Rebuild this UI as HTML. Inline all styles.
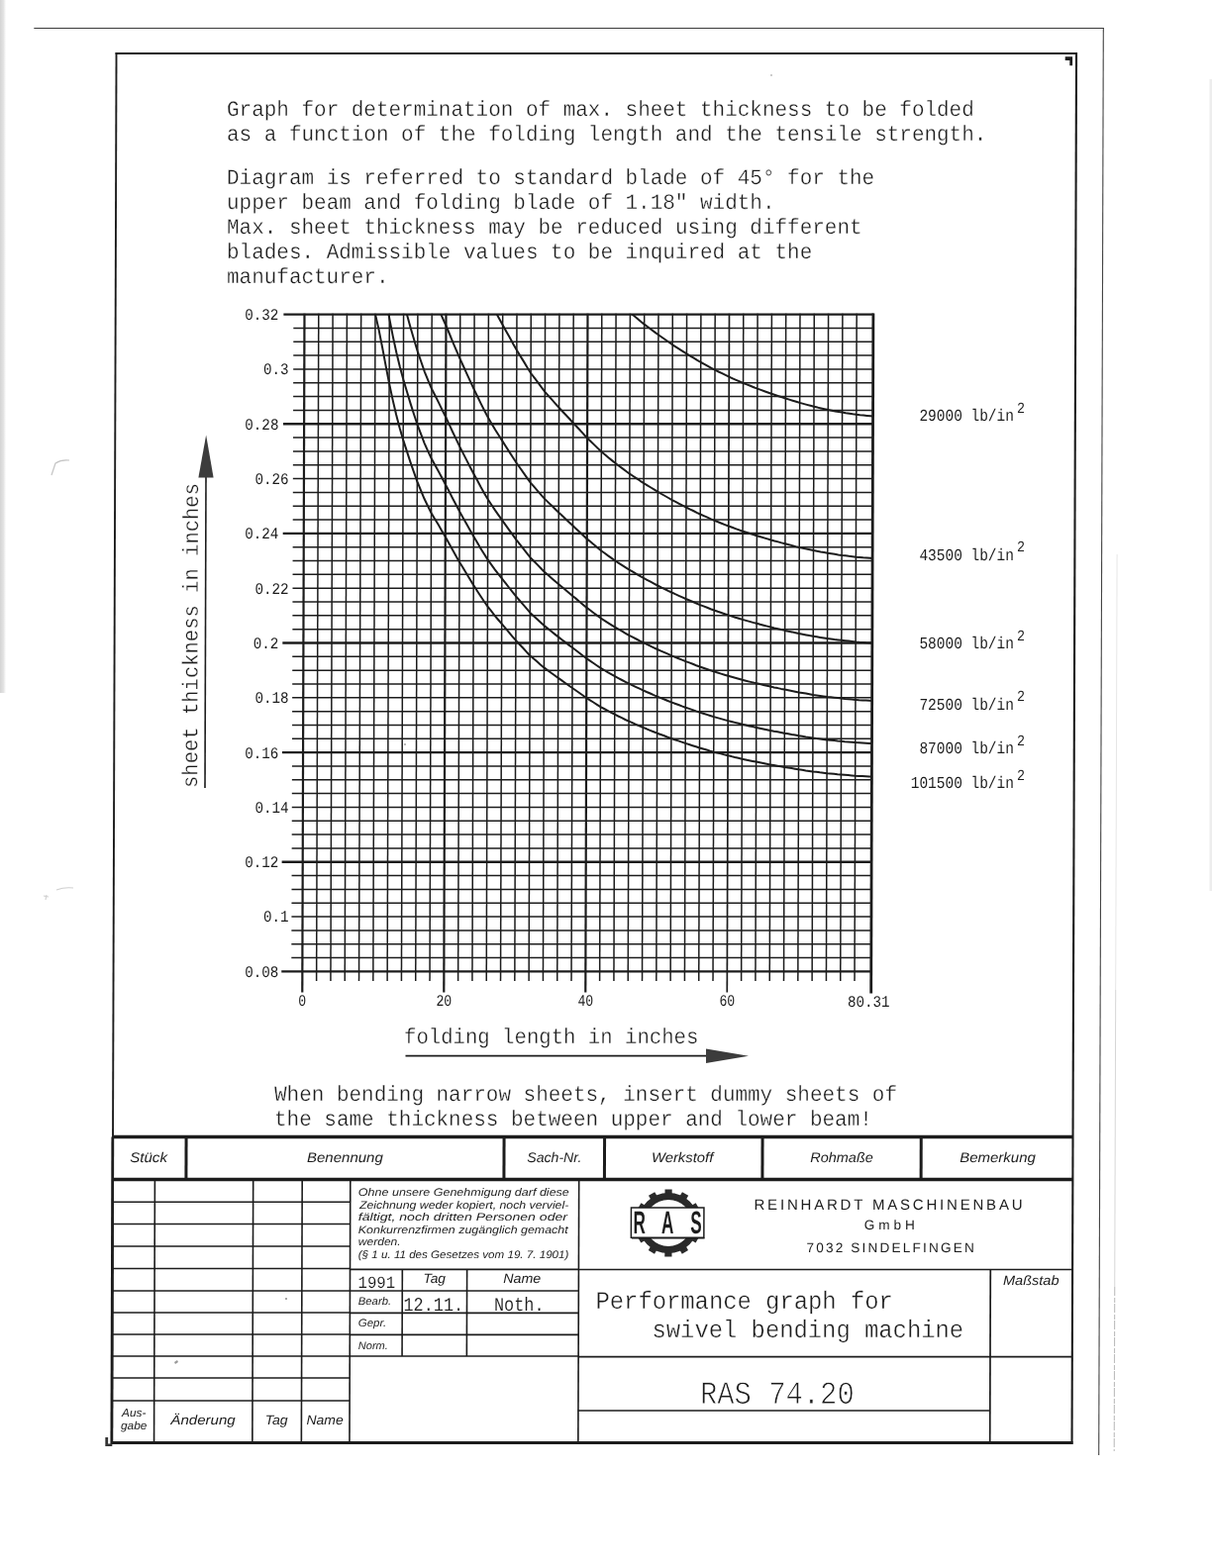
<!DOCTYPE html>
<html lang="en"><head><meta charset="utf-8"><title>RAS 74.20 – Performance graph for swivel bending machine</title>
<style>
html,body{margin:0;padding:0;background:#fff}
body{width:1224px;height:1584px;overflow:hidden}
svg{display:block}
text{fill:#1c1c1c}
.m{font-family:"Liberation Mono", "DejaVu Sans Mono", monospace}
.s{font-family:"Liberation Sans", "DejaVu Sans", sans-serif}
</style></head><body>
<svg width="1224" height="1584" viewBox="0 0 1224 1584">
<defs><linearGradient id="edge" x1="0" x2="1" y1="0" y2="0"><stop offset="0" stop-color="#d4d4d4"/><stop offset="0.6" stop-color="#e4e4e4"/><stop offset="1" stop-color="#ffffff"/></linearGradient></defs>
<rect width="1224" height="1584" fill="#fff"/>
<rect x="0" y="0" width="6" height="700" fill="url(#edge)"/>
<rect x="1221.5" y="80" width="2.5" height="820" fill="#ededed"/>
<path d="M52 480 l4 -12 q6 -4 14 -3" fill="none" stroke="#c4c4c4" stroke-width="1.2"/>
<path d="M46 909 l1 -5 m-3 1 l5 1 m8 -7 q8 -3 17 -2" fill="none" stroke="#cfcfcf" stroke-width="1.1"/>
<circle cx="779" cy="76" r="1" fill="#bbb"/><circle cx="409" cy="752" r="0.9" fill="#999"/><circle cx="289" cy="1312" r="1" fill="#888"/>
<path d="M176 1376 l3 -2 l1 2 l-3 2z" fill="#999"/>

<g transform="matrix(1 0 -0.0032 1 2.400 0)">
<!-- frame, title block -->
<line x1="115.30" y1="53.00" x2="115.30" y2="1459.00" stroke="#1c1c1c" stroke-width="1.9"/>
<line x1="115.10" y1="1148.50" x2="115.10" y2="1459.00" stroke="#1c1c1c" stroke-width="2.8"/>
<line x1="1084.80" y1="53.00" x2="1084.80" y2="1459.00" stroke="#1c1c1c" stroke-width="2.1"/>
<line x1="114.40" y1="54.00" x2="1085.80" y2="54.00" stroke="#1c1c1c" stroke-width="2.2"/>
<line x1="114.40" y1="1457.50" x2="1085.80" y2="1457.50" stroke="#1c1c1c" stroke-width="3.2"/>
<line x1="115.30" y1="1148.50" x2="1084.80" y2="1148.50" stroke="#1c1c1c" stroke-width="3.4"/>
<line x1="115.30" y1="1191.50" x2="1084.80" y2="1191.50" stroke="#1c1c1c" stroke-width="3.4"/>
<line x1="189.34" y1="1148.50" x2="189.34" y2="1191.50" stroke="#1c1c1c" stroke-width="3.0"/>
<line x1="510.34" y1="1148.50" x2="510.34" y2="1191.50" stroke="#1c1c1c" stroke-width="3.0"/>
<line x1="611.84" y1="1148.50" x2="611.84" y2="1191.50" stroke="#1c1c1c" stroke-width="3.0"/>
<line x1="771.34" y1="1148.50" x2="771.34" y2="1191.50" stroke="#1c1c1c" stroke-width="3.0"/>
<line x1="931.54" y1="1148.50" x2="931.54" y2="1191.50" stroke="#1c1c1c" stroke-width="3.0"/>
<line x1="157.82" y1="1191.50" x2="157.82" y2="1457.50" stroke="#1c1c1c" stroke-width="1.6"/>
<line x1="257.12" y1="1191.50" x2="257.12" y2="1457.50" stroke="#1c1c1c" stroke-width="1.6"/>
<line x1="306.62" y1="1191.50" x2="306.62" y2="1457.50" stroke="#1c1c1c" stroke-width="1.6"/>
<line x1="355.22" y1="1191.50" x2="355.22" y2="1457.50" stroke="#1c1c1c" stroke-width="1.6"/>
<line x1="586.12" y1="1191.50" x2="586.12" y2="1457.50" stroke="#1c1c1c" stroke-width="1.6"/>
<line x1="115.30" y1="1214.25" x2="355.22" y2="1214.25" stroke="#1c1c1c" stroke-width="1.5"/>
<line x1="115.30" y1="1236.50" x2="355.22" y2="1236.50" stroke="#1c1c1c" stroke-width="1.5"/>
<line x1="115.30" y1="1259.00" x2="355.22" y2="1259.00" stroke="#1c1c1c" stroke-width="1.5"/>
<line x1="115.30" y1="1281.60" x2="355.22" y2="1281.60" stroke="#1c1c1c" stroke-width="1.5"/>
<line x1="115.30" y1="1303.90" x2="355.22" y2="1303.90" stroke="#1c1c1c" stroke-width="1.5"/>
<line x1="115.30" y1="1325.90" x2="355.22" y2="1325.90" stroke="#1c1c1c" stroke-width="1.5"/>
<line x1="115.30" y1="1348.10" x2="355.22" y2="1348.10" stroke="#1c1c1c" stroke-width="1.5"/>
<line x1="115.30" y1="1370.00" x2="355.22" y2="1370.00" stroke="#1c1c1c" stroke-width="1.5"/>
<line x1="115.30" y1="1392.00" x2="355.22" y2="1392.00" stroke="#1c1c1c" stroke-width="1.5"/>
<line x1="115.30" y1="1415.00" x2="355.22" y2="1415.00" stroke="#1c1c1c" stroke-width="1.5"/>
<line x1="355.22" y1="1282.30" x2="586.12" y2="1282.30" stroke="#1c1c1c" stroke-width="1.7"/>
<line x1="355.22" y1="1304.00" x2="586.12" y2="1304.00" stroke="#1c1c1c" stroke-width="1.7"/>
<line x1="355.22" y1="1326.30" x2="586.12" y2="1326.30" stroke="#1c1c1c" stroke-width="1.7"/>
<line x1="355.22" y1="1348.30" x2="586.12" y2="1348.30" stroke="#1c1c1c" stroke-width="1.7"/>
<line x1="355.22" y1="1370.00" x2="586.12" y2="1370.00" stroke="#1c1c1c" stroke-width="1.7"/>
<line x1="408.04" y1="1282.30" x2="408.04" y2="1370.00" stroke="#1c1c1c" stroke-width="1.6"/>
<line x1="473.34" y1="1282.30" x2="473.34" y2="1370.00" stroke="#1c1c1c" stroke-width="1.6"/>
<line x1="586.12" y1="1282.50" x2="1084.80" y2="1282.50" stroke="#1c1c1c" stroke-width="1.7"/>
<line x1="586.12" y1="1370.60" x2="1084.80" y2="1370.60" stroke="#1c1c1c" stroke-width="1.7"/>
<line x1="586.12" y1="1425.00" x2="1001.98" y2="1425.00" stroke="#1c1c1c" stroke-width="1.7"/>
<line x1="1001.98" y1="1282.50" x2="1001.98" y2="1457.50" stroke="#1c1c1c" stroke-width="1.7"/>
<line x1="32.00" y1="28.50" x2="1112.50" y2="28.50" stroke="#3a3a3a" stroke-width="1.2"/>
<line x1="1112.00" y1="28.00" x2="1112.00" y2="1470.00" stroke="#444" stroke-width="1.1"/>
<line x1="1127.50" y1="560.00" x2="1127.50" y2="1000.00" stroke="#e6e6e6" stroke-width="1.0"/>
<line x1="1127.50" y1="1000.00" x2="1127.50" y2="1300.00" stroke="#d6d6d6" stroke-width="1.0"/>
<line x1="1127.50" y1="1300" x2="1127.50" y2="1466" stroke="#bdbdbd" stroke-width="1.1" stroke-dasharray="9 2 5 1"/>
<!-- chart grid -->
<g stroke="#1c1c1c" fill="none">
<line x1="285.00" y1="317.60" x2="880.92" y2="317.60" stroke-width="2.4"/>
<line x1="295.00" y1="331.43" x2="880.92" y2="331.43" stroke-width="1.5"/>
<line x1="295.00" y1="345.26" x2="880.92" y2="345.26" stroke-width="1.5"/>
<line x1="295.00" y1="359.09" x2="880.92" y2="359.09" stroke-width="1.5"/>
<line x1="295.00" y1="372.92" x2="880.92" y2="372.92" stroke-width="1.5"/>
<line x1="295.00" y1="386.75" x2="880.92" y2="386.75" stroke-width="1.5"/>
<line x1="295.00" y1="400.57" x2="880.92" y2="400.57" stroke-width="1.5"/>
<line x1="295.00" y1="414.40" x2="880.92" y2="414.40" stroke-width="1.5"/>
<line x1="285.00" y1="428.23" x2="880.92" y2="428.23" stroke-width="2.4"/>
<line x1="295.00" y1="442.06" x2="880.92" y2="442.06" stroke-width="1.5"/>
<line x1="295.00" y1="455.89" x2="880.92" y2="455.89" stroke-width="1.5"/>
<line x1="295.00" y1="469.72" x2="880.92" y2="469.72" stroke-width="1.5"/>
<line x1="295.00" y1="483.55" x2="880.92" y2="483.55" stroke-width="1.5"/>
<line x1="295.00" y1="497.38" x2="880.92" y2="497.38" stroke-width="1.5"/>
<line x1="295.00" y1="511.21" x2="880.92" y2="511.21" stroke-width="1.5"/>
<line x1="295.00" y1="525.04" x2="880.92" y2="525.04" stroke-width="1.5"/>
<line x1="285.00" y1="538.87" x2="880.92" y2="538.87" stroke-width="2.4"/>
<line x1="295.00" y1="552.70" x2="880.92" y2="552.70" stroke-width="1.5"/>
<line x1="295.00" y1="566.52" x2="880.92" y2="566.52" stroke-width="1.5"/>
<line x1="295.00" y1="580.35" x2="880.92" y2="580.35" stroke-width="1.5"/>
<line x1="295.00" y1="594.18" x2="880.92" y2="594.18" stroke-width="1.5"/>
<line x1="295.00" y1="608.01" x2="880.92" y2="608.01" stroke-width="1.5"/>
<line x1="295.00" y1="621.84" x2="880.92" y2="621.84" stroke-width="1.5"/>
<line x1="295.00" y1="635.67" x2="880.92" y2="635.67" stroke-width="1.5"/>
<line x1="285.00" y1="649.50" x2="880.92" y2="649.50" stroke-width="2.4"/>
<line x1="295.00" y1="663.33" x2="880.92" y2="663.33" stroke-width="1.5"/>
<line x1="295.00" y1="677.16" x2="880.92" y2="677.16" stroke-width="1.5"/>
<line x1="295.00" y1="690.99" x2="880.92" y2="690.99" stroke-width="1.5"/>
<line x1="295.00" y1="704.82" x2="880.92" y2="704.82" stroke-width="1.5"/>
<line x1="295.00" y1="718.65" x2="880.92" y2="718.65" stroke-width="1.5"/>
<line x1="295.00" y1="732.47" x2="880.92" y2="732.47" stroke-width="1.5"/>
<line x1="295.00" y1="746.30" x2="880.92" y2="746.30" stroke-width="1.5"/>
<line x1="285.00" y1="760.13" x2="880.92" y2="760.13" stroke-width="2.4"/>
<line x1="295.00" y1="773.96" x2="880.92" y2="773.96" stroke-width="1.5"/>
<line x1="295.00" y1="787.79" x2="880.92" y2="787.79" stroke-width="1.5"/>
<line x1="295.00" y1="801.62" x2="880.92" y2="801.62" stroke-width="1.5"/>
<line x1="295.00" y1="815.45" x2="880.92" y2="815.45" stroke-width="1.5"/>
<line x1="295.00" y1="829.28" x2="880.92" y2="829.28" stroke-width="1.5"/>
<line x1="295.00" y1="843.11" x2="880.92" y2="843.11" stroke-width="1.5"/>
<line x1="295.00" y1="856.94" x2="880.92" y2="856.94" stroke-width="1.5"/>
<line x1="285.00" y1="870.77" x2="880.92" y2="870.77" stroke-width="2.4"/>
<line x1="295.00" y1="884.60" x2="880.92" y2="884.60" stroke-width="1.5"/>
<line x1="295.00" y1="898.42" x2="880.92" y2="898.42" stroke-width="1.5"/>
<line x1="295.00" y1="912.25" x2="880.92" y2="912.25" stroke-width="1.5"/>
<line x1="295.00" y1="926.08" x2="880.92" y2="926.08" stroke-width="1.5"/>
<line x1="295.00" y1="939.91" x2="880.92" y2="939.91" stroke-width="1.5"/>
<line x1="295.00" y1="953.74" x2="880.92" y2="953.74" stroke-width="1.5"/>
<line x1="295.00" y1="967.57" x2="880.92" y2="967.57" stroke-width="1.5"/>
<line x1="285.00" y1="981.40" x2="880.92" y2="981.40" stroke-width="2.4"/>
<line x1="306.10" y1="316.80" x2="306.10" y2="1002.50" stroke-width="2.2"/>
<line x1="320.40" y1="316.80" x2="320.40" y2="991.00" stroke-width="1.5"/>
<line x1="334.70" y1="316.80" x2="334.70" y2="991.00" stroke-width="1.5"/>
<line x1="349.00" y1="316.80" x2="349.00" y2="991.00" stroke-width="1.5"/>
<line x1="363.30" y1="316.80" x2="363.30" y2="991.00" stroke-width="1.5"/>
<line x1="377.60" y1="316.80" x2="377.60" y2="991.00" stroke-width="1.5"/>
<line x1="391.90" y1="316.80" x2="391.90" y2="991.00" stroke-width="1.5"/>
<line x1="406.20" y1="316.80" x2="406.20" y2="991.00" stroke-width="1.5"/>
<line x1="420.50" y1="316.80" x2="420.50" y2="991.00" stroke-width="1.5"/>
<line x1="434.80" y1="316.80" x2="434.80" y2="991.00" stroke-width="1.5"/>
<line x1="449.10" y1="316.80" x2="449.10" y2="1002.50" stroke-width="2.2"/>
<line x1="463.40" y1="316.80" x2="463.40" y2="991.00" stroke-width="1.5"/>
<line x1="477.70" y1="316.80" x2="477.70" y2="991.00" stroke-width="1.5"/>
<line x1="492.00" y1="316.80" x2="492.00" y2="991.00" stroke-width="1.5"/>
<line x1="506.30" y1="316.80" x2="506.30" y2="991.00" stroke-width="1.5"/>
<line x1="520.60" y1="316.80" x2="520.60" y2="991.00" stroke-width="1.5"/>
<line x1="534.90" y1="316.80" x2="534.90" y2="991.00" stroke-width="1.5"/>
<line x1="549.20" y1="316.80" x2="549.20" y2="991.00" stroke-width="1.5"/>
<line x1="563.50" y1="316.80" x2="563.50" y2="991.00" stroke-width="1.5"/>
<line x1="577.80" y1="316.80" x2="577.80" y2="991.00" stroke-width="1.5"/>
<line x1="592.10" y1="316.80" x2="592.10" y2="1002.50" stroke-width="2.2"/>
<line x1="606.40" y1="316.80" x2="606.40" y2="991.00" stroke-width="1.5"/>
<line x1="620.70" y1="316.80" x2="620.70" y2="991.00" stroke-width="1.5"/>
<line x1="635.00" y1="316.80" x2="635.00" y2="991.00" stroke-width="1.5"/>
<line x1="649.30" y1="316.80" x2="649.30" y2="991.00" stroke-width="1.5"/>
<line x1="663.60" y1="316.80" x2="663.60" y2="991.00" stroke-width="1.5"/>
<line x1="677.90" y1="316.80" x2="677.90" y2="991.00" stroke-width="1.5"/>
<line x1="692.20" y1="316.80" x2="692.20" y2="991.00" stroke-width="1.5"/>
<line x1="706.50" y1="316.80" x2="706.50" y2="991.00" stroke-width="1.5"/>
<line x1="720.80" y1="316.80" x2="720.80" y2="991.00" stroke-width="1.5"/>
<line x1="735.10" y1="316.80" x2="735.10" y2="1002.50" stroke-width="1.7"/>
<line x1="749.40" y1="316.80" x2="749.40" y2="991.00" stroke-width="1.5"/>
<line x1="763.70" y1="316.80" x2="763.70" y2="991.00" stroke-width="1.5"/>
<line x1="778.00" y1="316.80" x2="778.00" y2="991.00" stroke-width="1.5"/>
<line x1="792.30" y1="316.80" x2="792.30" y2="991.00" stroke-width="1.5"/>
<line x1="806.60" y1="316.80" x2="806.60" y2="991.00" stroke-width="1.5"/>
<line x1="820.90" y1="316.80" x2="820.90" y2="991.00" stroke-width="1.5"/>
<line x1="835.20" y1="316.80" x2="835.20" y2="991.00" stroke-width="1.5"/>
<line x1="849.50" y1="316.80" x2="849.50" y2="991.00" stroke-width="1.5"/>
<line x1="863.80" y1="316.80" x2="863.80" y2="991.00" stroke-width="1.5"/>
<line x1="880.52" y1="316.60" x2="880.52" y2="1003.5" stroke-width="2.8"/>
</g>
<!-- curves -->
<g stroke="#1c1c1c" stroke-width="2.0" fill="none" stroke-linejoin="round">
<path d="M637.0 317.6 L638.6 318.8 L642.2 321.7 L645.7 324.7 L649.3 327.6 L652.9 330.3 L656.5 333.0 L660.0 335.6 L663.6 338.3 L667.2 340.8 L670.8 343.3 L674.3 345.8 L677.9 348.3 L681.5 350.6 L685.1 352.9 L688.6 355.1 L692.2 357.4 L695.8 359.6 L699.4 361.7 L702.9 363.9 L706.5 366.0 L710.1 367.9 L713.7 369.9 L717.2 371.8 L720.8 373.7 L724.4 375.5 L728.0 377.2 L731.5 378.9 L735.1 380.7 L738.7 382.3 L742.2 383.8 L745.8 385.4 L749.4 387.0 L753.0 388.4 L756.6 389.8 L760.1 391.2 L763.7 392.6 L767.3 393.9 L770.9 395.2 L774.4 396.5 L778.0 397.8 L781.6 399.0 L785.2 400.2 L788.7 401.3 L792.3 402.5 L795.9 403.6 L799.5 404.7 L803.0 405.8 L806.6 406.9 L810.2 407.9 L813.8 408.9 L817.3 409.8 L820.9 410.8 L824.5 411.6 L828.1 412.5 L831.6 413.3 L835.2 414.1 L838.8 414.7 L842.4 415.4 L845.9 416.0 L849.5 416.6 L853.1 417.2 L856.7 417.7 L860.2 418.3 L863.8 418.8 L867.4 419.2 L871.0 419.5 L874.5 419.9 L878.1 420.3 L880.3 420.5"/>
<path d="M500.4 317.6 L502.7 321.8 L506.3 328.3 L509.9 334.7 L513.5 341.1 L517.0 347.5 L520.6 353.8 L524.2 359.6 L527.8 365.4 L531.3 371.2 L534.9 377.0 L538.5 381.7 L542.1 386.4 L545.6 391.1 L549.2 395.8 L552.8 399.8 L556.4 403.8 L559.9 407.8 L563.5 411.8 L567.1 415.7 L570.7 419.5 L574.2 423.3 L577.8 427.2 L581.4 431.0 L585.0 434.8 L588.5 438.7 L592.1 442.5 L595.7 446.0 L599.2 449.4 L602.8 452.9 L606.4 456.3 L610.0 459.2 L613.5 462.2 L617.1 465.1 L620.7 468.0 L624.3 470.7 L627.9 473.4 L631.4 476.0 L635.0 478.7 L638.6 481.0 L642.2 483.4 L645.7 485.8 L649.3 488.1 L652.9 490.3 L656.5 492.5 L660.0 494.7 L663.6 496.9 L667.2 499.0 L670.8 501.0 L674.3 503.0 L677.9 505.1 L681.5 506.9 L685.1 508.8 L688.6 510.7 L692.2 512.5 L695.8 514.3 L699.4 516.0 L702.9 517.8 L706.5 519.5 L710.1 521.1 L713.7 522.7 L717.2 524.3 L720.8 525.9 L724.4 527.3 L728.0 528.7 L731.5 530.1 L735.1 531.5 L738.7 532.8 L742.2 534.1 L745.8 535.4 L749.4 536.7 L753.0 537.8 L756.6 539.0 L760.1 540.1 L763.7 541.2 L767.3 542.3 L770.9 543.4 L774.4 544.4 L778.0 545.5 L781.6 546.5 L785.2 547.4 L788.7 548.4 L792.3 549.3 L795.9 550.2 L799.5 551.1 L803.0 552.1 L806.6 553.0 L810.2 553.7 L813.8 554.5 L817.3 555.3 L820.9 556.1 L824.5 556.8 L828.1 557.5 L831.6 558.1 L835.2 558.8 L838.8 559.3 L842.4 559.8 L845.9 560.4 L849.5 560.9 L853.1 561.3 L856.7 561.8 L860.2 562.2 L863.8 562.7 L867.4 563.0 L871.0 563.3 L874.5 563.5 L878.1 563.8 L880.3 564.0"/>
<path d="M444.0 317.6 L445.5 321.0 L449.1 329.0 L452.7 337.5 L456.2 346.1 L459.8 354.4 L463.4 362.7 L467.0 370.5 L470.6 378.3 L474.1 385.9 L477.7 393.6 L481.3 401.0 L484.9 408.4 L488.4 415.3 L492.0 422.1 L495.6 428.2 L499.2 434.3 L502.7 439.8 L506.3 445.4 L509.9 451.0 L513.5 456.6 L517.0 462.0 L520.6 467.5 L524.2 472.5 L527.8 477.6 L531.3 482.6 L534.9 487.6 L538.5 491.7 L542.1 495.8 L545.6 499.8 L549.2 503.9 L552.8 507.4 L556.4 510.8 L559.9 514.3 L563.5 517.8 L567.1 521.1 L570.7 524.4 L574.2 527.7 L577.8 531.1 L581.4 534.4 L585.0 537.7 L588.5 541.0 L592.1 544.4 L595.7 547.3 L599.2 550.3 L602.8 553.3 L606.4 556.3 L610.0 558.8 L613.5 561.4 L617.1 563.9 L620.7 566.5 L624.3 568.8 L627.9 571.1 L631.4 573.4 L635.0 575.7 L638.6 577.7 L642.2 579.8 L645.7 581.8 L649.3 583.9 L652.9 585.8 L656.5 587.7 L660.0 589.6 L663.6 591.5 L667.2 593.3 L670.8 595.0 L674.3 596.8 L677.9 598.5 L681.5 600.2 L685.1 601.8 L688.6 603.4 L692.2 605.0 L695.8 606.5 L699.4 608.0 L702.9 609.5 L706.5 611.1 L710.1 612.4 L713.7 613.8 L717.2 615.2 L720.8 616.5 L724.4 617.8 L728.0 619.0 L731.5 620.2 L735.1 621.4 L738.7 622.5 L742.2 623.7 L745.8 624.8 L749.4 625.9 L753.0 626.9 L756.6 627.9 L760.1 628.9 L763.7 629.8 L767.3 630.8 L770.9 631.7 L774.4 632.6 L778.0 633.5 L781.6 634.4 L785.2 635.2 L788.7 636.0 L792.3 636.9 L795.9 637.7 L799.5 638.4 L803.0 639.2 L806.6 640.0 L810.2 640.7 L813.8 641.4 L817.3 642.1 L820.9 642.7 L824.5 643.3 L828.1 643.9 L831.6 644.5 L835.2 645.1 L838.8 645.5 L842.4 646.0 L845.9 646.4 L849.5 646.8 L853.1 647.2 L856.7 647.6 L860.2 648.0 L863.8 648.4 L867.4 648.7 L871.0 648.9 L874.5 649.2 L878.1 649.4 L880.3 649.6"/>
<path d="M409.5 317.6 L409.8 318.5 L413.4 331.5 L416.9 343.3 L420.5 355.1 L424.1 365.5 L427.7 375.8 L431.2 384.3 L434.8 392.8 L438.4 399.8 L442.0 406.9 L445.5 414.1 L449.1 421.3 L452.7 428.9 L456.2 436.5 L459.8 443.9 L463.4 451.4 L467.0 458.4 L470.6 465.4 L474.1 472.2 L477.7 479.0 L481.3 485.6 L484.9 492.3 L488.4 498.4 L492.0 504.5 L495.6 510.0 L499.2 515.4 L502.7 520.4 L506.3 525.4 L509.9 530.3 L513.5 535.3 L517.0 540.2 L520.6 545.1 L524.2 549.6 L527.8 554.1 L531.3 558.6 L534.9 563.1 L538.5 566.8 L542.1 570.4 L545.6 574.0 L549.2 577.7 L552.8 580.8 L556.4 583.9 L559.9 587.0 L563.5 590.1 L567.1 593.0 L570.7 596.0 L574.2 599.0 L577.8 602.0 L581.4 604.9 L585.0 607.9 L588.5 610.9 L592.1 613.9 L595.7 616.5 L599.2 619.2 L602.8 621.9 L606.4 624.5 L610.0 626.8 L613.5 629.1 L617.1 631.4 L620.7 633.6 L624.3 635.7 L627.9 637.7 L631.4 639.8 L635.0 641.9 L638.6 643.7 L642.2 645.5 L645.7 647.4 L649.3 649.2 L652.9 650.9 L656.5 652.6 L660.0 654.3 L663.6 656.0 L667.2 657.6 L670.8 659.2 L674.3 660.7 L677.9 662.3 L681.5 663.8 L685.1 665.2 L688.6 666.6 L692.2 668.1 L695.8 669.4 L699.4 670.8 L702.9 672.2 L706.5 673.5 L710.1 674.7 L713.7 676.0 L717.2 677.2 L720.8 678.4 L724.4 679.5 L728.0 680.6 L731.5 681.7 L735.1 682.8 L738.7 683.8 L742.2 684.8 L745.8 685.8 L749.4 686.8 L753.0 687.7 L756.6 688.6 L760.1 689.4 L763.7 690.3 L767.3 691.1 L770.9 692.0 L774.4 692.8 L778.0 693.6 L781.6 694.4 L785.2 695.1 L788.7 695.9 L792.3 696.6 L795.9 697.3 L799.5 698.0 L803.0 698.7 L806.6 699.4 L810.2 700.0 L813.8 700.6 L817.3 701.2 L820.9 701.9 L824.5 702.4 L828.1 702.9 L831.6 703.4 L835.2 704.0 L838.8 704.3 L842.4 704.7 L845.9 705.1 L849.5 705.5 L853.1 705.9 L856.7 706.2 L860.2 706.6 L863.8 706.9 L867.4 707.2 L871.0 707.4 L874.5 707.6 L878.1 707.8 L880.3 708.0"/>
<path d="M391.1 317.6 L391.9 321.8 L395.5 339.9 L399.1 356.2 L402.6 370.5 L406.2 383.6 L409.8 395.5 L413.4 407.4 L416.9 418.2 L420.5 429.0 L424.1 438.4 L427.7 447.8 L431.2 455.6 L434.8 463.3 L438.4 469.8 L442.0 476.3 L445.5 482.8 L449.1 489.4 L452.7 496.3 L456.2 503.2 L459.8 510.0 L463.4 516.8 L467.0 523.2 L470.6 529.6 L474.1 535.8 L477.7 542.0 L481.3 548.1 L484.9 554.2 L488.4 559.8 L492.0 565.4 L495.6 570.3 L499.2 575.3 L502.7 579.8 L506.3 584.4 L509.9 588.9 L513.5 593.5 L517.0 597.9 L520.6 602.4 L524.2 606.5 L527.8 610.6 L531.3 614.7 L534.9 618.9 L538.5 622.2 L542.1 625.5 L545.6 628.8 L549.2 632.1 L552.8 634.9 L556.4 637.8 L559.9 640.6 L563.5 643.4 L567.1 646.2 L570.7 648.9 L574.2 651.6 L577.8 654.3 L581.4 657.0 L585.0 659.7 L588.5 662.5 L592.1 665.2 L595.7 667.6 L599.2 670.0 L602.8 672.5 L606.4 674.9 L610.0 677.0 L613.5 679.1 L617.1 681.1 L620.7 683.2 L624.3 685.1 L627.9 687.0 L631.4 688.8 L635.0 690.7 L638.6 692.4 L642.2 694.1 L645.7 695.7 L649.3 697.4 L652.9 699.0 L656.5 700.5 L660.0 702.1 L663.6 703.6 L667.2 705.1 L670.8 706.5 L674.3 708.0 L677.9 709.4 L681.5 710.7 L685.1 712.0 L688.6 713.4 L692.2 714.7 L695.8 715.9 L699.4 717.1 L702.9 718.4 L706.5 719.6 L710.1 720.7 L713.7 721.9 L717.2 723.0 L720.8 724.1 L724.4 725.1 L728.0 726.1 L731.5 727.1 L735.1 728.1 L738.7 729.0 L742.2 729.9 L745.8 730.8 L749.4 731.8 L753.0 732.6 L756.6 733.4 L760.1 734.1 L763.7 734.9 L767.3 735.7 L770.9 736.5 L774.4 737.2 L778.0 738.0 L781.6 738.7 L785.2 739.3 L788.7 740.0 L792.3 740.7 L795.9 741.3 L799.5 742.0 L803.0 742.6 L806.6 743.3 L810.2 743.8 L813.8 744.4 L817.3 744.9 L820.9 745.5 L824.5 746.0 L828.1 746.4 L831.6 746.9 L835.2 747.4 L838.8 747.8 L842.4 748.1 L845.9 748.5 L849.5 748.8 L853.1 749.2 L856.7 749.5 L860.2 749.8 L863.8 750.1 L867.4 750.3 L871.0 750.5 L874.5 750.7 L878.1 750.9 L880.3 751.1"/>
<path d="M377.7 317.6 L381.2 332.9 L384.8 350.7 L388.3 369.1 L391.9 387.2 L395.5 403.9 L399.1 419.0 L402.6 432.3 L406.2 444.4 L409.8 455.4 L413.4 466.4 L416.9 476.4 L420.5 486.4 L424.1 495.1 L427.7 503.8 L431.2 511.0 L434.8 518.2 L438.4 524.2 L442.0 530.1 L445.5 536.2 L449.1 542.3 L452.7 548.7 L456.2 555.1 L459.8 561.4 L463.4 567.7 L467.0 573.6 L470.6 579.5 L474.1 585.3 L477.7 591.1 L481.3 596.7 L484.9 602.3 L488.4 607.5 L492.0 612.6 L495.6 617.2 L499.2 621.8 L502.7 626.0 L506.3 630.2 L509.9 634.4 L513.5 638.7 L517.0 642.8 L520.6 646.9 L524.2 650.7 L527.8 654.5 L531.3 658.4 L534.9 662.2 L538.5 665.2 L542.1 668.3 L545.6 671.4 L549.2 674.4 L552.8 677.1 L556.4 679.7 L559.9 682.3 L563.5 684.9 L567.1 687.4 L570.7 690.0 L574.2 692.5 L577.8 695.0 L581.4 697.5 L585.0 700.0 L588.5 702.5 L592.1 705.0 L595.7 707.3 L599.2 709.5 L602.8 711.8 L606.4 714.1 L610.0 716.0 L613.5 717.9 L617.1 719.8 L620.7 721.7 L624.3 723.5 L627.9 725.2 L631.4 727.0 L635.0 728.7 L638.6 730.2 L642.2 731.8 L645.7 733.3 L649.3 734.9 L652.9 736.3 L656.5 737.8 L660.0 739.2 L663.6 740.7 L667.2 742.0 L670.8 743.3 L674.3 744.7 L677.9 746.0 L681.5 747.2 L685.1 748.4 L688.6 749.6 L692.2 750.9 L695.8 752.0 L699.4 753.2 L702.9 754.3 L706.5 755.5 L710.1 756.5 L713.7 757.5 L717.2 758.6 L720.8 759.6 L724.4 760.5 L728.0 761.4 L731.5 762.4 L735.1 763.3 L738.7 764.1 L742.2 765.0 L745.8 765.8 L749.4 766.7 L753.0 767.4 L756.6 768.2 L760.1 768.9 L763.7 769.6 L767.3 770.3 L770.9 771.0 L774.4 771.7 L778.0 772.5 L781.6 773.1 L785.2 773.7 L788.7 774.3 L792.3 775.0 L795.9 775.6 L799.5 776.1 L803.0 776.7 L806.6 777.3 L810.2 777.8 L813.8 778.4 L817.3 778.9 L820.9 779.4 L824.5 779.8 L828.1 780.3 L831.6 780.7 L835.2 781.2 L838.8 781.5 L842.4 781.8 L845.9 782.2 L849.5 782.5 L853.1 782.8 L856.7 783.1 L860.2 783.4 L863.8 783.7 L867.4 783.9 L871.0 784.1 L874.5 784.3 L878.1 784.5 L880.3 784.6"/>
</g>
<!-- arrows -->
<line x1="207.15" y1="796" x2="207.15" y2="470" stroke="#1c1c1c" stroke-width="1.6"/>
<path d="M207.15 439.5 L214.75 482.5 L199.55 482.5 Z" fill="#3c3c3c"/>
<line x1="410.51" y1="1066.7" x2="718.01" y2="1066.7" stroke="#1c1c1c" stroke-width="1.8"/>
<path d="M757.01 1066.7 L714.01 1059.5 L714.01 1073.9 Z" fill="#3c3c3c"/>
<!-- logo -->
<g transform="translate(676.55 1235.40)">
<g fill="#2a2a2a"><rect x="-3.6" y="-34" width="7.2" height="6" transform="rotate(0)"/><rect x="-3.6" y="-34" width="7.2" height="6" transform="rotate(30)"/><rect x="-3.6" y="-34" width="7.2" height="6" transform="rotate(60)"/><rect x="-3.6" y="-34" width="7.2" height="6" transform="rotate(90)"/><rect x="-3.6" y="-34" width="7.2" height="6" transform="rotate(120)"/><rect x="-3.6" y="-34" width="7.2" height="6" transform="rotate(150)"/><rect x="-3.6" y="-34" width="7.2" height="6" transform="rotate(180)"/><rect x="-3.6" y="-34" width="7.2" height="6" transform="rotate(210)"/><rect x="-3.6" y="-34" width="7.2" height="6" transform="rotate(240)"/><rect x="-3.6" y="-34" width="7.2" height="6" transform="rotate(270)"/><rect x="-3.6" y="-34" width="7.2" height="6" transform="rotate(300)"/><rect x="-3.6" y="-34" width="7.2" height="6" transform="rotate(330)"/></g>
<circle r="27" fill="none" stroke="#2a2a2a" stroke-width="7"/>
<rect x="-37.6" y="-15.4" width="73.5" height="30.2" fill="#fff" stroke="#1c1c1c" stroke-width="1.5"/>
<line x1="-37" y1="15.6" x2="36.6" y2="15.6" stroke="#1c1c1c" stroke-width="1.2"/>
<g font-family='"Liberation Sans", "DejaVu Sans", sans-serif' font-weight="bold" font-size="32.2" text-anchor="middle" fill="#1c1c1c">
<text transform="translate(-29.4 10.3) scale(0.53 1)">R</text>
<text transform="translate(-0.7 10.3) scale(0.53 1)">A</text>
<text transform="translate(28 10.3) scale(0.53 1)">S</text>
</g></g>
<!-- text -->
<text class="m" x="226.98" y="117.50" font-size="22" textLength="754.80" lengthAdjust="spacingAndGlyphs" stroke="#fff" stroke-width="0.31">Graph for determination of max. sheet thickness to be folded</text>
<text class="m" x="227.06" y="142.50" font-size="22" textLength="767.38" lengthAdjust="spacingAndGlyphs" stroke="#fff" stroke-width="0.31">as a function of the folding length and the tensile strength.</text>
<text class="m" x="227.20" y="186.25" font-size="22" textLength="654.16" lengthAdjust="spacingAndGlyphs" stroke="#fff" stroke-width="0.31">Diagram is referred to standard blade of 45° for the</text>
<text class="m" x="227.28" y="211.25" font-size="22" textLength="553.52" lengthAdjust="spacingAndGlyphs" stroke="#fff" stroke-width="0.31">upper beam and folding blade of 1.18&quot; width.</text>
<text class="m" x="227.36" y="236.25" font-size="22" textLength="641.58" lengthAdjust="spacingAndGlyphs" stroke="#fff" stroke-width="0.31">Max. sheet thickness may be reduced using different</text>
<text class="m" x="227.44" y="261.25" font-size="22" textLength="591.26" lengthAdjust="spacingAndGlyphs" stroke="#fff" stroke-width="0.31">blades. Admissible values to be inquired at the</text>
<text class="m" x="227.51" y="285.75" font-size="22" textLength="163.54" lengthAdjust="spacingAndGlyphs" stroke="#fff" stroke-width="0.31">manufacturer.</text>
<text class="m" x="408.97" y="1054.00" font-size="22" textLength="297.36" lengthAdjust="spacingAndGlyphs" stroke="#fff" stroke-width="0.31">folding length in inches</text>
<text class="m" x="278.16" y="1111.60" font-size="22" textLength="629.00" lengthAdjust="spacingAndGlyphs" stroke="#fff" stroke-width="0.31">When bending narrow sheets, insert dummy sheets of</text>
<text class="m" x="278.24" y="1136.80" font-size="22" textLength="603.84" lengthAdjust="spacingAndGlyphs" stroke="#fff" stroke-width="0.31">the same thickness between upper and lower beam!</text>
<text class="m" transform="translate(199.25 796.00) rotate(-90)" font-size="22" textLength="308.00" lengthAdjust="spacingAndGlyphs" stroke="#fff" stroke-width="0.31">sheet thickness in inches</text>
<text class="m" x="603.33" y="1321.75" font-size="25.2" textLength="300.30" lengthAdjust="spacingAndGlyphs" stroke="#fff" stroke-width="0.35">Performance graph for</text>
<text class="m" x="660.42" y="1350.75" font-size="25.2" textLength="314.60" lengthAdjust="spacingAndGlyphs" stroke="#fff" stroke-width="0.35">swivel bending machine</text>
<text class="m" x="709.14" y="1418.00" font-size="32.5" textLength="155.70" lengthAdjust="spacingAndGlyphs" stroke="#fff" stroke-width="0.85">RAS 74.20</text>
<text class="m" x="363.26" y="1301.30" font-size="17" textLength="37.60" lengthAdjust="spacingAndGlyphs" stroke="#fff" stroke-width="0.08">1991</text>
<text class="m" x="409.34" y="1323.80" font-size="19.5" textLength="60.60" lengthAdjust="spacingAndGlyphs" stroke="#fff" stroke-width="0.08">12.11.</text>
<text class="m" x="500.84" y="1323.80" font-size="19.5" textLength="50.50" lengthAdjust="spacingAndGlyphs" stroke="#fff" stroke-width="0.08">Noth.</text>
<text class="m" x="245.86" y="323.00" font-size="16.2" textLength="34.20" lengthAdjust="spacingAndGlyphs">0.32</text>
<text class="m" x="264.79" y="378.32" font-size="16.2" textLength="25.65" lengthAdjust="spacingAndGlyphs">0.3</text>
<text class="m" x="246.22" y="433.63" font-size="16.2" textLength="34.20" lengthAdjust="spacingAndGlyphs">0.28</text>
<text class="m" x="256.59" y="488.95" font-size="16.2" textLength="34.20" lengthAdjust="spacingAndGlyphs">0.26</text>
<text class="m" x="246.57" y="544.27" font-size="16.2" textLength="34.20" lengthAdjust="spacingAndGlyphs">0.24</text>
<text class="m" x="256.95" y="599.58" font-size="16.2" textLength="34.20" lengthAdjust="spacingAndGlyphs">0.22</text>
<text class="m" x="255.47" y="654.90" font-size="16.2" textLength="25.65" lengthAdjust="spacingAndGlyphs">0.2</text>
<text class="m" x="257.30" y="710.22" font-size="16.2" textLength="34.20" lengthAdjust="spacingAndGlyphs">0.18</text>
<text class="m" x="247.28" y="765.53" font-size="16.2" textLength="34.20" lengthAdjust="spacingAndGlyphs">0.16</text>
<text class="m" x="257.66" y="820.85" font-size="16.2" textLength="34.20" lengthAdjust="spacingAndGlyphs">0.14</text>
<text class="m" x="247.63" y="876.17" font-size="16.2" textLength="34.20" lengthAdjust="spacingAndGlyphs">0.12</text>
<text class="m" x="266.56" y="931.48" font-size="16.2" textLength="25.65" lengthAdjust="spacingAndGlyphs">0.1</text>
<text class="m" x="247.99" y="986.80" font-size="16.2" textLength="34.20" lengthAdjust="spacingAndGlyphs">0.08</text>
<text class="m" x="302.20" y="1016.50" font-size="16.2" textLength="7.90" lengthAdjust="spacingAndGlyphs">0</text>
<text class="m" x="441.25" y="1016.50" font-size="16.2" textLength="15.80" lengthAdjust="spacingAndGlyphs">20</text>
<text class="m" x="584.25" y="1016.50" font-size="16.2" textLength="15.80" lengthAdjust="spacingAndGlyphs">40</text>
<text class="m" x="727.25" y="1016.50" font-size="16.2" textLength="15.80" lengthAdjust="spacingAndGlyphs">60</text>
<text class="m" x="856.87" y="1016.80" font-size="16.2" textLength="42.50" lengthAdjust="spacingAndGlyphs">80.31</text>
<text class="m" x="927.40" y="425.50" font-size="16.8" textLength="95.48" lengthAdjust="spacingAndGlyphs">29000 lb/in</text>
<text class="m" x="1025.93" y="416.90" font-size="15.5" textLength="8.00" lengthAdjust="spacingAndGlyphs">2</text>
<text class="m" x="927.85" y="565.80" font-size="16.8" textLength="95.48" lengthAdjust="spacingAndGlyphs">43500 lb/in</text>
<text class="m" x="1026.38" y="557.20" font-size="15.5" textLength="8.00" lengthAdjust="spacingAndGlyphs">2</text>
<text class="m" x="928.14" y="655.30" font-size="16.8" textLength="95.48" lengthAdjust="spacingAndGlyphs">58000 lb/in</text>
<text class="m" x="1026.67" y="646.70" font-size="15.5" textLength="8.00" lengthAdjust="spacingAndGlyphs">2</text>
<text class="m" x="928.34" y="716.70" font-size="16.8" textLength="95.48" lengthAdjust="spacingAndGlyphs">72500 lb/in</text>
<text class="m" x="1026.87" y="708.10" font-size="15.5" textLength="8.00" lengthAdjust="spacingAndGlyphs">2</text>
<text class="m" x="928.48" y="761.20" font-size="16.8" textLength="95.48" lengthAdjust="spacingAndGlyphs">87000 lb/in</text>
<text class="m" x="1027.01" y="752.60" font-size="15.5" textLength="8.00" lengthAdjust="spacingAndGlyphs">2</text>
<text class="m" x="919.91" y="796.50" font-size="16.8" textLength="104.16" lengthAdjust="spacingAndGlyphs">101500 lb/in</text>
<text class="m" x="1027.12" y="787.90" font-size="15.5" textLength="8.00" lengthAdjust="spacingAndGlyphs">2</text>
<text class="s" x="132.61" y="1173.75" font-size="14" textLength="37.67" lengthAdjust="spacingAndGlyphs" font-style="italic">Stück</text>
<text class="s" x="311.36" y="1173.75" font-size="14" textLength="76.77" lengthAdjust="spacingAndGlyphs" font-style="italic">Benennung</text>
<text class="s" x="533.61" y="1173.75" font-size="14" textLength="55.15" lengthAdjust="spacingAndGlyphs" font-style="italic">Sach-Nr.</text>
<text class="s" x="659.30" y="1173.75" font-size="14" textLength="62.32" lengthAdjust="spacingAndGlyphs" font-style="italic">Werkstoff</text>
<text class="s" x="819.61" y="1173.75" font-size="14" textLength="63.53" lengthAdjust="spacingAndGlyphs" font-style="italic">Rohmaße</text>
<text class="s" x="970.61" y="1173.75" font-size="14" textLength="76.52" lengthAdjust="spacingAndGlyphs" font-style="italic">Bemerkung</text>
<text class="s" x="1014.75" y="1298.00" font-size="13.5" textLength="56.47" lengthAdjust="spacingAndGlyphs" font-style="italic">Maßstab</text>
<text class="s" x="429.33" y="1296.20" font-size="13.5" textLength="22.42" lengthAdjust="spacingAndGlyphs" font-style="italic">Tag</text>
<text class="s" x="510.05" y="1296.20" font-size="13.5" textLength="37.94" lengthAdjust="spacingAndGlyphs" font-style="italic">Name</text>
<text class="s" x="363.62" y="1318.30" font-size="11" textLength="33.28" lengthAdjust="spacingAndGlyphs" font-style="italic">Bearb.</text>
<text class="s" x="363.69" y="1340.00" font-size="11" textLength="28.30" lengthAdjust="spacingAndGlyphs" font-style="italic">Gepr.</text>
<text class="s" x="363.76" y="1362.60" font-size="11" textLength="30.06" lengthAdjust="spacingAndGlyphs" font-style="italic">Norm.</text>
<text class="s" x="125.21" y="1431.25" font-size="11.5" textLength="24.30" lengthAdjust="spacingAndGlyphs" font-style="italic">Aus-</text>
<text class="s" x="124.22" y="1443.75" font-size="11.5" textLength="26.41" lengthAdjust="spacingAndGlyphs" font-style="italic">gabe</text>
<text class="s" x="174.57" y="1438.75" font-size="13.5" textLength="65.34" lengthAdjust="spacingAndGlyphs" font-style="italic">Änderung</text>
<text class="s" x="269.91" y="1438.75" font-size="13.5" textLength="23.03" lengthAdjust="spacingAndGlyphs" font-style="italic">Tag</text>
<text class="s" x="311.70" y="1438.75" font-size="13.5" textLength="37.28" lengthAdjust="spacingAndGlyphs" font-style="italic">Name</text>
<text class="s" x="363.27" y="1208.00" font-size="11" textLength="213.03" lengthAdjust="spacingAndGlyphs" font-style="italic">Ohne unsere Genehmigung darf diese</text>
<text class="s" x="364.42" y="1220.60" font-size="11" textLength="211.40" lengthAdjust="spacingAndGlyphs" font-style="italic">Zeichnung weder kopiert, noch verviel-</text>
<text class="s" x="363.35" y="1233.30" font-size="11" textLength="211.19" lengthAdjust="spacingAndGlyphs" font-style="italic">fältigt, noch dritten Personen oder</text>
<text class="s" x="363.39" y="1245.80" font-size="11" textLength="211.83" lengthAdjust="spacingAndGlyphs" font-style="italic">Konkurrenzfirmen zugänglich gemacht</text>
<text class="s" x="363.43" y="1258.40" font-size="11" textLength="42.86" lengthAdjust="spacingAndGlyphs" font-style="italic">werden.</text>
<text class="s" x="363.47" y="1271.00" font-size="11" textLength="212.54" lengthAdjust="spacingAndGlyphs" font-style="italic">(§ 1 u. 11 des Gesetzes vom 19. 7. 1901)</text>
<text class="s" x="762.99" y="1222.50" font-size="15.0" textLength="271.09" lengthAdjust="spacing">REINHARDT MASCHINENBAU</text>
<text class="s" x="874.32" y="1242.00" font-size="13.6" textLength="51.06" lengthAdjust="spacing">GmbH</text>
<text class="s" x="816.15" y="1265.00" font-size="13.6" textLength="169.28" lengthAdjust="spacing">7032 SINDELFINGEN</text>
<path d="M1073.5 57.2 h7.4 v9 h-2.8 v-5.2 h-4.6 z" fill="#1c1c1c"/>
<path d="M108.6 1452 v9 h7 v-2.4 h-4.2 v-6.6 z" fill="#333"/>

</g>
</svg>
</body></html>
